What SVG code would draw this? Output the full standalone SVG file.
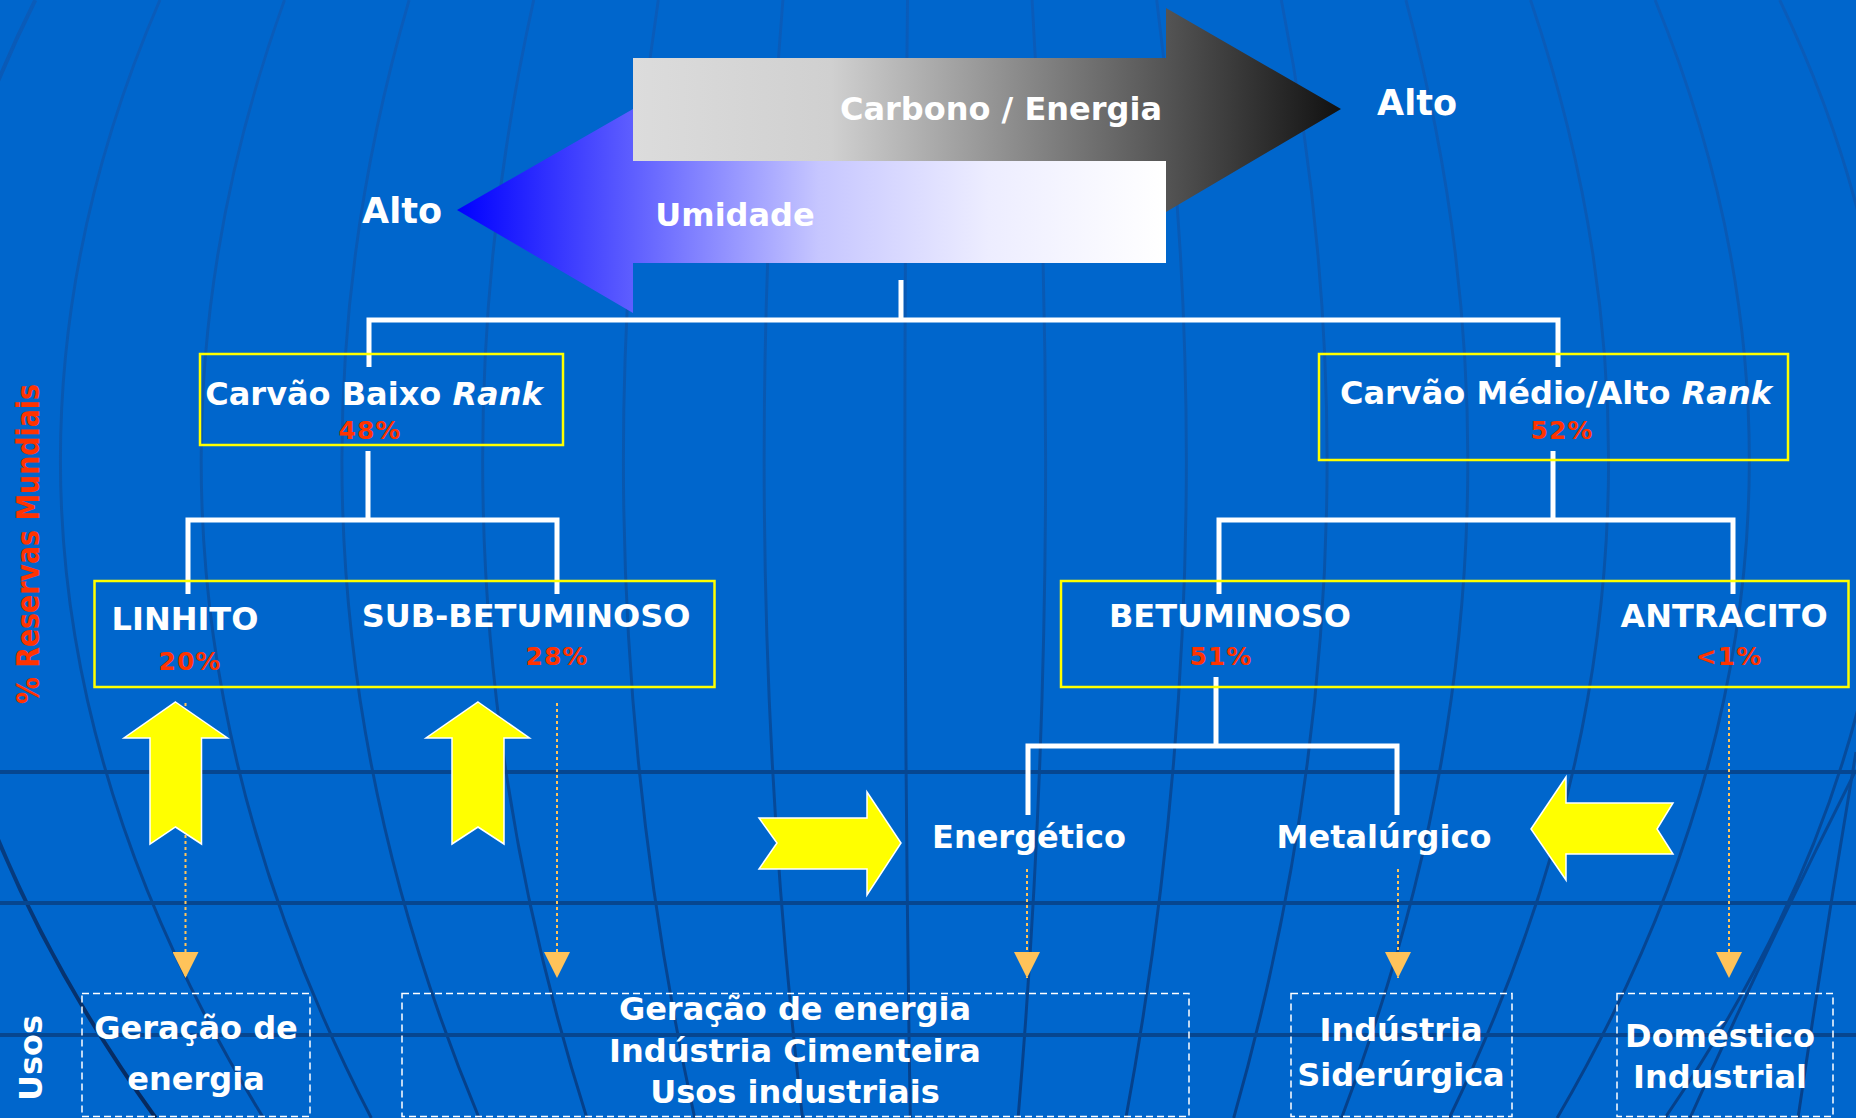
<svg xmlns="http://www.w3.org/2000/svg" width="1856" height="1118" viewBox="0 0 1856 1118">
<defs>
<linearGradient id="mg" gradientUnits="userSpaceOnUse" x1="0" y1="0" x2="0" y2="1118">
<stop offset="0" stop-color="#0A5CBA"/>
<stop offset="0.45" stop-color="#0857AE"/>
<stop offset="0.7" stop-color="#064A9A"/>
<stop offset="1" stop-color="#05408A"/>
</linearGradient>
<linearGradient id="rimg" gradientUnits="userSpaceOnUse" x1="0" y1="0" x2="0" y2="1118">
<stop offset="0" stop-color="#0A5CBA"/>
<stop offset="0.6" stop-color="#064A9A"/>
<stop offset="1" stop-color="#06285C"/>
</linearGradient>
<linearGradient id="gray" gradientUnits="userSpaceOnUse" x1="633" y1="0" x2="1341" y2="0">
<stop offset="0" stop-color="#DCDCDC"/>
<stop offset="0.28" stop-color="#D0D0D0"/>
<stop offset="0.75" stop-color="#555555"/>
<stop offset="1" stop-color="#111111"/>
</linearGradient>
<linearGradient id="blue" gradientUnits="userSpaceOnUse" x1="457" y1="0" x2="1166" y2="0">
<stop offset="0" stop-color="#0000FF"/>
<stop offset="0.25" stop-color="#5F5FFF"/>
<stop offset="0.51" stop-color="#C6C6FF"/>
<stop offset="0.75" stop-color="#EDEDFF"/>
<stop offset="1" stop-color="#FFFFFF"/>
</linearGradient>
<marker id="oa" markerUnits="userSpaceOnUse" markerWidth="26" markerHeight="26" refX="26" refY="13" orient="auto">
<path d="M0,0 L26,13 L0,26 Z" fill="#FFC35A"/>
</marker>
</defs>
<style>
.t{font-family:"DejaVu Sans",Verdana,sans-serif;font-weight:bold;fill:#FFFFFF;font-size:32px;text-anchor:middle}
.big{font-size:35px}
.p{fill:#FF3300;font-size:25px;letter-spacing:1px}
.red{fill:#FF3300}
.box{fill:none;stroke:#FFFF00;stroke-width:2.5}
.use{fill:none;stroke:#FFFFFF;stroke-width:1.5;stroke-dasharray:7 4}
.conn{stroke:#FFFFFF;stroke-width:5;fill:none}
.dot{stroke:#FFC35A;stroke-width:2;stroke-dasharray:3 3;fill:none}
.yarr{fill:#FFFF00;stroke:#FFFFFF;stroke-width:1.5}
.mer{fill:none;stroke:url(#mg);stroke-width:3}
.lat{stroke:#064690;stroke-width:4}
</style>
<rect x="0" y="0" width="1856" height="1118" fill="#0066CC"/>
<g id="background-globe">
<path class="mer" style="stroke:url(#rimg);stroke-width:4" d="M35.3,0 Q-245.5,559 155.7,1118"/>
<path class="mer" d="M159.9,0 Q-81.7,559 263.5,1118"/>
<path class="mer" d="M284.5,0 Q82.1,559 371.3,1118"/>
<path class="mer" d="M409.1,0 Q245.9,559 479.1,1118"/>
<path class="mer" d="M533.7,0 Q409.7,559 586.9,1118"/>
<path class="mer" d="M658.3,0 Q573.5,559 694.7,1118"/>
<path class="mer" d="M782.9,0 Q737.3,559 802.5,1118"/>
<path class="mer" d="M907.5,0 Q901.1,559 910.3,1118"/>
<path class="mer" d="M1032.1,0 Q1064.9,559 1018.1,1118"/>
<path class="mer" d="M1156.7,0 Q1228.7,559 1125.9,1118"/>
<path class="mer" d="M1281.3,0 Q1392.5,559 1233.7,1118"/>
<path class="mer" d="M1405.9,0 Q1556.3,559 1341.5,1118"/>
<path class="mer" d="M1530.5,0 Q1720.1,559 1449.3,1118"/>
<path class="mer" d="M1655.1,0 Q1883.9,559 1557.1,1118"/>
<path class="mer" d="M1779.7,0 Q2047.7,559 1664.9,1118"/>
<path class="mer" d="M1856,752 Q1825,935 1798,1118"/>
<path class="mer" d="M1856,770 Q1770,940 1690,1118"/>
<line class="lat" x1="0" y1="772" x2="1856" y2="772"/>
<line class="lat" x1="0" y1="903" x2="1856" y2="903"/>
<line class="lat" x1="0" y1="1035" x2="1856" y2="1035"/>
</g>
<g id="arrow-umidade">
<polygon points="457,210 633,109 633,161 1166,161 1166,263 633,263 633,313" fill="url(#blue)"/>
<text class="t" x="735" y="226">Umidade</text>
</g>
<g id="arrow-carbono">
<polygon points="633,58 1166,58 1166,8 1341,109 1166,212 1166,161 633,161" fill="url(#gray)"/>
<text class="t" x="1001" y="120">Carbono / Energia</text>
</g>
<g id="label-alto-direita"><text class="t big" x="1417" y="115">Alto</text></g>
<g id="label-alto-esquerda"><text class="t big" x="402" y="223">Alto</text></g>
<g id="label-reservas"><text class="t red" font-size="29" transform="translate(39,544) rotate(-90)" textLength="320" lengthAdjust="spacingAndGlyphs">% Reservas Mundiais</text></g>
<g id="label-usos"><text class="t" font-size="25" transform="translate(42,1058) rotate(-90)">Usos</text></g>
<g id="connectors">
<polyline class="conn" points="901,280 901,320"/>
<polyline class="conn" points="369,367 369,320 1558,320 1558,367"/>
<polyline class="conn" points="368,451 368,520"/>
<polyline class="conn" points="188,594 188,520 557,520 557,594"/>
<polyline class="conn" points="1553,451 1553,520"/>
<polyline class="conn" points="1219,594 1219,520 1733,520 1733,594"/>
<polyline class="conn" points="1216,677 1216,746"/>
<polyline class="conn" points="1028,815 1028,746 1397,746 1397,815"/>
<line class="dot" x1="185.5" y1="703" x2="185.5" y2="978" marker-end="url(#oa)"/>
<line class="dot" x1="557" y1="703" x2="557" y2="978" marker-end="url(#oa)"/>
<line class="dot" x1="1027" y1="869" x2="1027" y2="978" marker-end="url(#oa)"/>
<line class="dot" x1="1398" y1="869" x2="1398" y2="978" marker-end="url(#oa)"/>
<line class="dot" x1="1729" y1="703" x2="1729" y2="978" marker-end="url(#oa)"/>
</g>
<g id="yellow-arrows">
<polygon class="yarr" points="175.5,702 227.5,738 201.5,738 201.5,844 175.5,827 150,844 150,738 124,738"/>
<polygon class="yarr" points="478,702 529.5,738 504,738 504,844 478,827 452,844 452,738 426,738"/>
<polygon class="yarr" points="759,818 867,818 867,792 901,843 867,895 867,869 759,869 777,843"/>
<polygon class="yarr" points="1531,829 1566,777 1566,803 1673,803 1657,829 1673,854 1566,854 1566,880"/>
</g>
<g id="node-baixo-rank">
<rect class="box" x="200" y="354" width="363" height="91"/>
<text class="t" x="374" y="405">Carvão Baixo <tspan font-style="italic">Rank</tspan></text>
<text class="t p" x="370" y="439">48%</text>
</g>
<g id="node-medio-alto-rank">
<rect class="box" x="1319" y="354" width="469" height="106"/>
<text class="t" x="1556" y="404">Carvão Médio/Alto <tspan font-style="italic">Rank</tspan></text>
<text class="t p" x="1562" y="439">52%</text>
</g>
<g id="node-linhito-sub">
<rect class="box" x="94.5" y="581" width="620" height="106"/>
<text class="t" x="185" y="630">LINHITO</text>
<text class="t p" x="190" y="670">20%</text>
<text class="t" x="526" y="627">SUB-BETUMINOSO</text>
<text class="t p" x="557" y="665">28%</text>
</g>
<g id="node-betuminoso-antracito">
<rect class="box" x="1061" y="581" width="787.5" height="106"/>
<text class="t" x="1230" y="627">BETUMINOSO</text>
<text class="t p" x="1221" y="665">51%</text>
<text class="t" x="1724" y="627">ANTRACITO</text>
<text class="t p" x="1729" y="665">&lt;1%</text>
</g>
<g id="node-energetico"><text class="t" x="1029" y="848">Energético</text></g>
<g id="node-metalurgico"><text class="t" x="1384" y="848">Metalúrgico</text></g>
<g id="use-geracao">
<rect class="use" x="82" y="993.5" width="228" height="123"/>
<text class="t" x="196" y="1039">Geração de</text>
<text class="t" x="196" y="1090">energia</text>
</g>
<g id="use-geracao-cimenteira">
<rect class="use" x="402" y="993.5" width="787" height="123"/>
<text class="t" x="795" y="1020">Geração de energia</text>
<text class="t" x="795" y="1062">Indústria Cimenteira</text>
<text class="t" x="795" y="1103">Usos industriais</text>
</g>
<g id="use-siderurgica">
<rect class="use" x="1291" y="993.5" width="221" height="123"/>
<text class="t" x="1401" y="1041">Indústria</text>
<text class="t" x="1401" y="1086">Siderúrgica</text>
</g>
<g id="use-domestico">
<rect class="use" x="1617" y="993.5" width="216" height="123"/>
<text class="t" x="1720" y="1047">Doméstico</text>
<text class="t" x="1720" y="1088">Industrial</text>
</g>
</svg>
